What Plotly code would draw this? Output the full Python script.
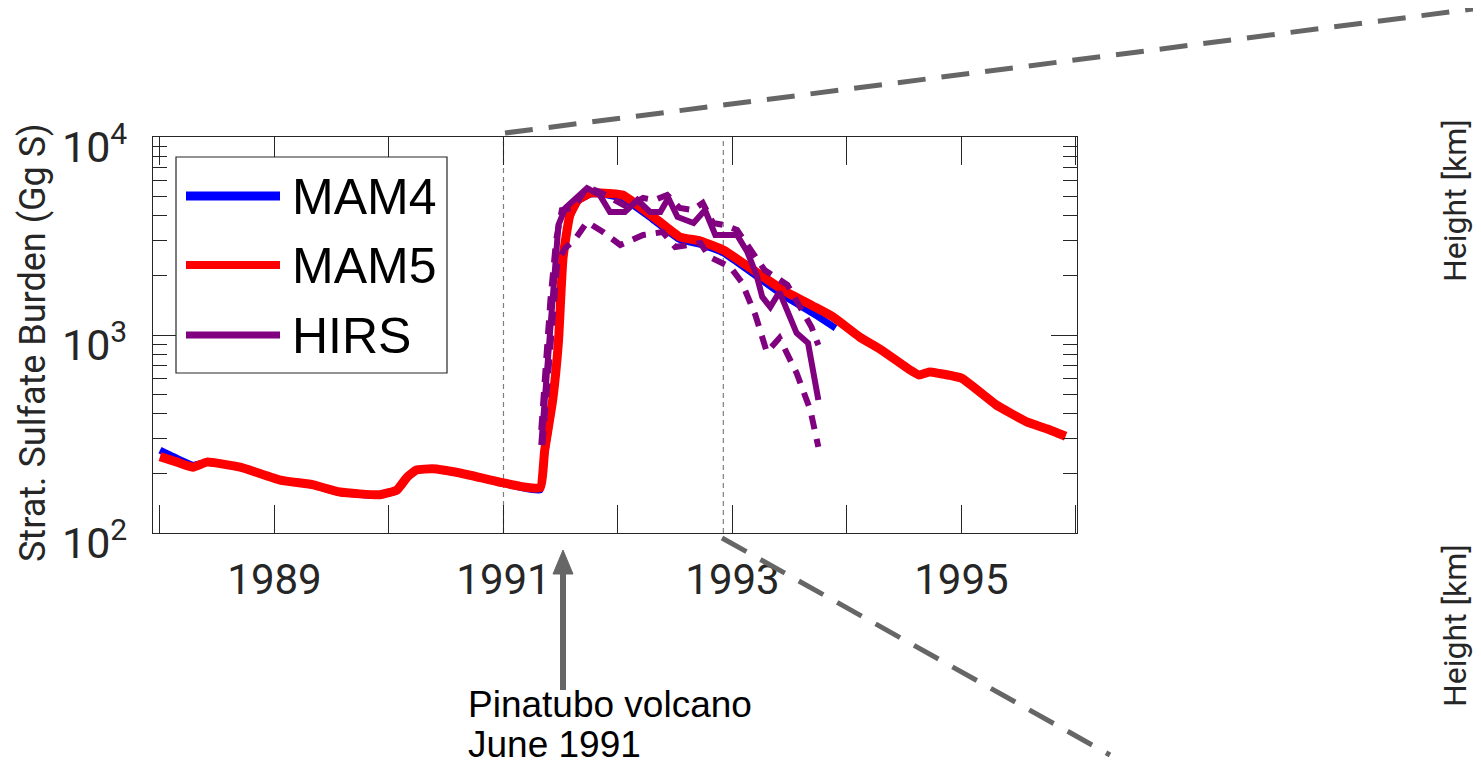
import plotly.graph_objects as go

# ---------------- data ----------------
mam4_year = [1988.0, 1988.15, 1988.29, 1988.41, 1988.70, 1989.05, 1989.34, 1989.57, 1989.92,
             1990.07, 1990.16, 1990.24, 1990.38, 1990.62, 1991.0, 1991.15, 1991.32, 1991.36,
             1991.43, 1991.48, 1991.52, 1991.58, 1991.65, 1991.76, 1991.85, 1992.04, 1992.3,
             1992.54, 1992.72, 1992.92, 1993.18, 1993.44, 1993.7, 1993.9]
mam4_val = [262, 238, 220, 228, 214, 185, 174, 160, 155,
            164, 190, 207, 210, 200, 178, 170, 165, 250,
            460, 905, 2400, 3950, 4750, 5150, 5150, 4900, 3850,
            3030, 2870, 2600, 2040, 1590, 1290, 1084]

mam5_year = [1988.0, 1988.15, 1988.29, 1988.41, 1988.70, 1989.05, 1989.34, 1989.57, 1989.92,
             1990.07, 1990.16, 1990.24, 1990.38, 1990.62, 1991.0, 1991.15, 1991.32, 1991.36,
             1991.43, 1991.48, 1991.52, 1991.58, 1991.65, 1991.76, 1991.85, 1992.04, 1992.3,
             1992.54, 1992.72, 1992.92, 1993.18, 1993.44, 1993.7, 1993.88, 1994.11, 1994.3,
             1994.55, 1994.63, 1994.72, 1994.8, 1995.0, 1995.3, 1995.57, 1995.75, 1995.91]
mam5_val = [243, 228, 215, 228, 215, 185, 175, 161, 156,
            165, 192, 208, 211, 201, 179, 172, 169, 262,
            470, 923, 2449, 4038, 4806, 5220, 5220, 5095, 3990,
            3126, 2985, 2686, 2130, 1687, 1403, 1233, 977, 840,
            666, 628, 650, 640, 605, 445, 364, 335, 308]

hirs_year = [1991.33, 1991.37, 1991.41, 1991.46, 1991.48, 1991.54, 1991.62, 1991.73, 1991.84,
             1991.93, 1992.06, 1992.17, 1992.28, 1992.37, 1992.44, 1992.52, 1992.66, 1992.76,
             1992.85, 1993.04, 1993.13, 1993.21, 1993.26, 1993.33, 1993.41, 1993.56, 1993.66,
             1993.75]
hirs_val = [278, 559, 1191, 2337, 3594, 4379, 4806, 5523, 5095,
            4180, 4180, 4806, 4180, 4180, 4920, 3945, 3680, 4277,
            3199, 3199, 2625, 2010, 1556, 1384, 1650, 1023, 911,
            470]

hirs_hi_year = [1991.33, 1991.37, 1991.41, 1991.46, 1991.51, 1991.61, 1991.73, 1991.84, 1991.96,
                1992.08, 1992.22, 1992.32, 1992.43, 1992.54, 1992.65, 1992.74, 1992.83, 1992.93,
                1993.04, 1993.14, 1993.28, 1993.48, 1993.57, 1993.69, 1993.75]
hirs_hi_val = [331, 748, 1502, 3020, 4277, 4379, 5590, 5277, 4806,
               4430, 4920, 4806, 5095, 4379, 4277, 4645, 3680, 3594,
               3390, 2783, 2130, 1790, 1468, 1097, 889]

hirs_lo_year = [1991.34, 1991.38, 1991.42, 1991.47, 1991.54, 1991.62, 1991.73, 1991.87, 1992.02,
                1992.22, 1992.39, 1992.50, 1992.72, 1992.80, 1992.98, 1993.08, 1993.20, 1993.30,
                1993.41, 1993.56, 1993.68, 1993.75]
hirs_lo_val = [278, 559, 1124, 2337, 2750, 3020, 3722, 3311, 2850,
               3199, 3311, 2783, 2915, 2477, 2205, 1852, 1262, 820,
               966, 643, 418, 272]

x_label_years = [1989, 1991, 1993, 1995]
x_label_text = ["1989", "1991", "1993", "1995"]
x_minor_years = [1988, 1990, 1992, 1994, 1996]
y_tick_vals = [100, 1000, 10000]
y_tick_text = ["10<sup>2</sup>", "10<sup>3</sup>", "10<sup>4</sup>"]
y_minor_vals = [200, 300, 400, 500, 600, 700, 800, 900,
                2000, 3000, 4000, 5000, 6000, 7000, 8000, 9000]
marker_years = [1991.0, 1992.92]

legend_names = ["MAM4", "MAM5", "HIRS"]
legend_colors = ["#0000FF", "#FF0000", "#800080"]

# ---------------- layout helpers ----------------
OFF = 8                      # page body margin in the browser
WIN_W, WIN_H = 1481, 764
FIG_W, FIG_H = WIN_W - OFF, 756
PL, PR, PT, PB = 153, 1077, 137, 533   # plot area in window pixels


def px(x):
    return (x - PL) / (PR - PL)


def py(y):
    return (PB - y) / (PB - PT)


AX = "#262626"
GREY = "#666666"

fig = go.Figure()
fig.add_trace(go.Scatter(x=mam4_year, y=mam4_val, mode="lines", name="MAM4",
                         line=dict(color="#0000FF", width=7, shape="spline", smoothing=0.4),
                         showlegend=False))
fig.add_trace(go.Scatter(x=mam5_year, y=mam5_val, mode="lines", name="MAM5",
                         line=dict(color="#FF0000", width=9, shape="spline", smoothing=0.4),
                         showlegend=False))
fig.add_trace(go.Scatter(x=hirs_year, y=hirs_val, mode="lines", name="HIRS",
                         line=dict(color="#800080", width=6), showlegend=False))
fig.add_trace(go.Scatter(x=hirs_hi_year, y=hirs_hi_val, mode="lines", name="HIRS upper",
                         line=dict(color="#800080", width=6, dash="14px,10px"), showlegend=False))
fig.add_trace(go.Scatter(x=hirs_lo_year, y=hirs_lo_val, mode="lines", name="HIRS lower",
                         line=dict(color="#800080", width=6, dash="14px,10px"), showlegend=False))

shapes = []
for yr in marker_years:
    shapes.append(dict(type="line", xref="x", yref="paper", x0=yr, x1=yr, y0=0, y1=1,
                       line=dict(color="#7f7f7f", width=1.2, dash="5px,4px"), layer="below"))
# zoom connector lines
shapes.append(dict(type="line", xref="paper", yref="paper",
                   x0=px(505), y0=py(133), x1=px(1481), y1=py(8),
                   line=dict(color=GREY, width=5, dash="28px,16px")))
shapes.append(dict(type="line", xref="paper", yref="paper",
                   x0=px(722), y0=py(538), x1=px(1110), y1=py(755),
                   line=dict(color=GREY, width=5, dash="28px,16px")))
# legend box
shapes.append(dict(type="rect", xref="paper", yref="paper",
                   x0=px(176), x1=px(447), y0=py(373), y1=py(157),
                   fillcolor="white", line=dict(color=AX, width=1.2)))
leg_y = [196, 265, 335]
leg_w = [9, 8, 7]
for yy, col, lw in zip(leg_y, legend_colors, leg_w):
    shapes.append(dict(type="line", xref="paper", yref="paper",
                       x0=px(186), x1=px(280), y0=py(yy), y1=py(yy),
                       line=dict(color=col, width=lw)))
# arrow
shapes.append(dict(type="line", xref="paper", yref="paper",
                   x0=px(563), x1=px(563), y0=py(572), y1=py(690),
                   line=dict(color=GREY, width=6)))
shapes.append(dict(type="path", xref="paper", yref="paper",
                   path=f"M {px(563)},{py(550)} L {px(553)},{py(574)} L {px(573)},{py(574)} Z",
                   fillcolor=GREY, line=dict(color=GREY, width=1)))

annotations = []
for yy, name in zip(leg_y, legend_names):
    annotations.append(dict(xref="paper", yref="paper", x=px(290), y=py(yy + 1),
                            xanchor="left", yanchor="middle", text=name, showarrow=False,
                            font=dict(family="Liberation Sans, Arial", size=50, color="black")))
annotations.append(dict(xref="paper", yref="paper", x=px(466), y=py(704), xanchor="left",
                        yanchor="middle", text="Pinatubo volcano", showarrow=False,
                        font=dict(family="Liberation Sans, Arial", size=37, color="black")))
annotations.append(dict(xref="paper", yref="paper", x=px(466), y=py(744), xanchor="left",
                        yanchor="middle", text="June 1991", showarrow=False,
                        font=dict(family="Liberation Sans, Arial", size=37, color="black")))
annotations.append(dict(xref="paper", yref="paper", x=px(33), y=py(343), xanchor="center",
                        yanchor="middle", text="Strat. Sulfate Burden (Gg S)", textangle=-90,
                        showarrow=False, font=dict(family="Roboto", size=36, color=AX)))
for yc in [201, 626]:
    annotations.append(dict(xref="paper", yref="paper", x=px(1455), y=py(yc), xanchor="center",
                            yanchor="middle", text="Height [km]", textangle=-90,
                            showarrow=False, font=dict(family="Roboto", size=32, color=AX)))

fig.update_layout(
    width=FIG_W, height=FIG_H,
    margin=dict(l=PL - OFF, r=FIG_W - (PR - OFF), t=PT - OFF, b=FIG_H - (PB - OFF), pad=0),
    paper_bgcolor="white", plot_bgcolor="white",
    showlegend=False,
    shapes=shapes, annotations=annotations,
    xaxis=dict(range=[1987.939, 1996.009], tickmode="array", tickvals=x_label_years,
               ticktext=x_label_text, ticks="inside", ticklen=28, tickwidth=1.3, tickcolor=AX,
               minor=dict(tickmode="array", tickvals=x_minor_years, ticks="inside", ticklen=28,
                          tickwidth=1.3, tickcolor=AX, showgrid=False),
               showline=True, linecolor=AX, linewidth=1.3, mirror="ticks",
               showgrid=False, zeroline=False, ticklabelstandoff=9,
               tickfont=dict(family="Roboto", size=42, color=AX)),
    yaxis=dict(type="log", range=[2, 4], tickmode="array", tickvals=y_tick_vals,
               ticktext=y_tick_text, ticks="inside", ticklen=26, tickwidth=1.3, tickcolor=AX,
               minor=dict(tickmode="array", tickvals=y_minor_vals, ticks="inside", ticklen=14,
                          tickwidth=1.3, tickcolor=AX, showgrid=False),
               showline=True, linecolor=AX, linewidth=1.3, mirror="ticks",
               showgrid=False, zeroline=False, ticklabelstandoff=16, ticklabelshift=10,
               tickfont=dict(family="Roboto", size=43, color=AX)),
)

fig.write_html("out.html")
